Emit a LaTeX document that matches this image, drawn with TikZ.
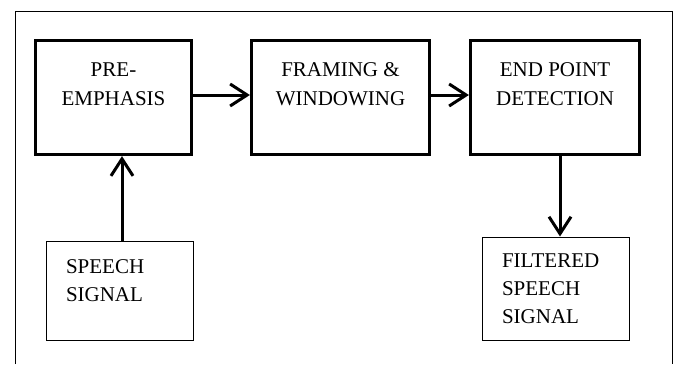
\documentclass[tikz,border=0pt]{standalone}
\usepackage{fontspec}
\setmainfont{Liberation Serif}
\usetikzlibrary{arrows.meta}

\tikzset{
  stagebox/.style={draw, line width=3.2pt, inner sep=0pt, align=center,
    font=\fontsize{21}{28.5}\selectfont},
  iobox/.style={draw, line width=1pt, inner xsep=20pt, inner ysep=0pt, align=left,
    font=\fontsize{21}{28}\selectfont},
  flow/.style={line width=3pt, -{Straight Barb[length=17pt,width=22pt]}}
}

\begin{document}
\begin{tikzpicture}[x=1pt,y=-1pt]
\useasboundingbox (0,0) rectangle (676,364);

% outer frame (runs off the bottom of the page)
\draw[line width=1pt] (15,364) -- (15,11) -- (672,11) -- (672,364);

% processing stages
\node[stagebox, minimum width=156, minimum height=114] (pre) at (113.5,97.5)
  {PRE-\\EMPHASIS\\[-10pt] \strut};
\node[stagebox, minimum width=178, minimum height=114] (frame) at (340.5,97.5)
  {FRAMING \&\\WINDOWING\\[-10pt] \strut};
\node[stagebox, minimum width=169, minimum height=114] (epd) at (555,97.5)
  {END POINT\\DETECTION\\[-10pt] \strut};

% input and output
\node[iobox, text width=107, minimum height=99] (speech) at (119.5,290.5)
  {SPEECH\\SIGNAL\\[-16pt] \strut};
\node[iobox, text width=107, minimum height=103] (filtered) at (555.5,288.5)
  {FILTERED\\SPEECH\\SIGNAL};

% connectors
\draw[flow] ([yshift=2.5pt]pre.east) -- ([yshift=2.5pt]frame.west);
\draw[flow] ([yshift=2.5pt]frame.east) -- ([yshift=2.5pt]epd.west);
\draw[flow] ([xshift=2.5pt]speech.north) -- ([xshift=2.5pt]speech.north |- pre.south);
\draw[flow] ([xshift=5pt]epd.south) -- ([xshift=5pt]epd.south |- filtered.north);
\end{tikzpicture}
\end{document}
